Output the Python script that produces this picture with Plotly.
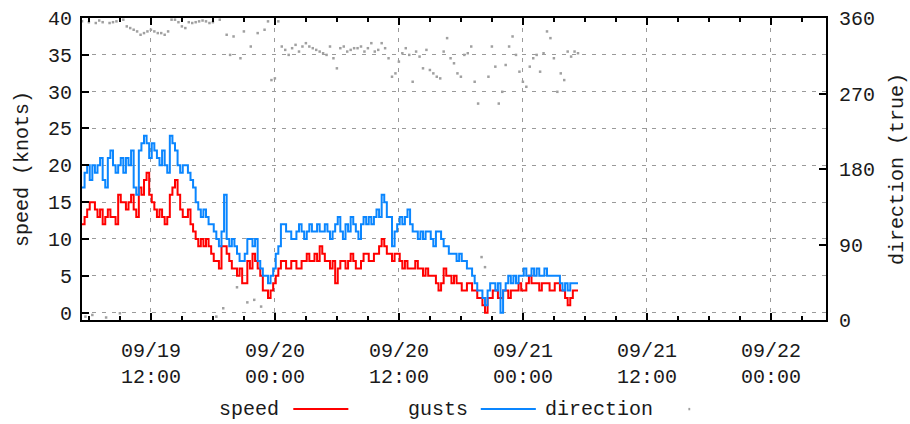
import datetime as dt
import plotly.graph_objects as go

# ---------------- data ----------------
start_time = "2016-09-19 05:20"
end_time = "2016-09-22 05:20"
wind_step_min = 15          # speed / gusts sample spacing
dir_step_min = 20           # direction sample spacing

speed_knots = [
    12, 13, 14, 15,  15, 14, 13, 14,  12, 13, 14, 13,  13, 12, 16, 15,
    15, 14, 15, 16,  14, 13, 17, 16,  18, 19, 16, 15,  14, 13, 14, 13,
    12, 13, 16, 17,  18, 16, 14, 13,  13, 14, 12, 11,  10, 9, 10, 9,
    10, 9, 8, 7,  7, 6, 9, 9,  8, 7, 6, 6,  5, 6, 4, 4,
    7, 6, 8, 7,  6, 5, 3, 3,  2, 3, 4, 5,  6, 7, 7, 6,
    6, 7, 7, 6,  6, 7, 7, 8,  7, 7, 8, 7,  9, 8, 7, 7,
    6, 7, 4, 6,  7, 7, 6, 7,  8, 7, 6, 6,  7, 8, 8, 7,
    7, 8, 8, 9,  10, 9, 8, 8,  7, 8, 8, 7,  6, 7, 6, 6,
    6, 7, 6, 6,  5, 6, 5, 5,  5, 4, 3, 4,  6, 5, 5, 4,
    5, 4, 4, 3,  3, 4, 4, 3,  3, 2, 2, 1,  0, 2, 2, 3,
    3, 2, 2, 3,  3, 2, 3, 3,  3, 4, 3, 3,  4, 5, 4, 4,
    4, 3, 4, 4,  4, 3, 3, 4,  4, 3, 3, 2,  1, 2, 3, 3,
    3,
]
gust_knots = [
    17, 19, 20, 18,  20, 19, 20, 21,  18, 17, 21, 22,  20, 19, 20, 21,
    19, 21, 20, 22,  17, 16, 22, 23,  24, 23, 21, 23,  22, 21, 20, 22,
    20, 19, 24, 23,  22, 20, 19, 20,  20, 19, 18, 17,  15, 14, 13, 14,
    13, 12, 12, 11,  10, 9, 11, 16,  10, 9, 10, 9,  8, 7, 7, 8,
    10, 10, 9, 10,  7, 6, 5, 5,  4, 5, 6, 8,  9, 12, 12, 11,
    11, 10, 10, 11,  12, 11, 10, 11,  12, 11, 11, 12,  11, 11, 12, 11,
    10, 11, 12, 13,  11, 10, 12, 11,  13, 12, 11, 10,  12, 13, 12, 13,
    12, 13, 14, 13,  16, 15, 13, 13,  9, 11, 12, 13,  12, 13, 14, 12,
    11, 11, 10, 11,  10, 11, 11, 10,  9, 11, 11, 10,  9, 9, 8, 8,
    8, 7, 8, 7,  7, 6, 6, 5,  4, 3, 3, 2,  1, 3, 4, 4,
    3, 4, 0, 3,  4, 5, 4, 5,  4, 5, 5, 6,  5, 5, 6, 5,
    6, 5, 5, 6,  5, 5, 5, 5,  5, 4, 3, 4,  3, 4, 4, 4,
    4,
]
direction_deg = [
    356, 4, 355, 6, 354, 357, 355, 3, 354, 355, 356, 8, 358, 350, 348, 346, 344, 340,
    342, 344, 346, 344, 342, 342, 340, 344, 358, 358, 355, 350, 348, 355, 354, 355, 356, 357,
    356, 354, 355, 4, 358, 14, 340, 316, 338, 39, 312, 344, 21, 326, 24, 342, 16, 346,
    356, 286, 288, 356, 326, 322, 316, 324, 328, 320, 326, 330, 326, 324, 322, 320, 318, 316,
    326, 312, 300, 324, 326, 320, 322, 324, 324, 326, 320, 324, 330, 320, 322, 330, 324, 312,
    290, 294, 308, 318, 324, 316, 284, 320, 314, 300, 322, 298, 294, 290, 288, 320, 336, 312,
    306, 294, 290, 316, 318, 326, 284, 258, 75, 63, 290, 326, 302, 258, 272, 304, 326, 338,
    316, 296, 284, 278, 302, 312, 316, 296, 318, 344, 336, 312, 272, 294, 286, 320, 314, 320,
    318,
]

tick_vals = ["2016-09-19 12:00", "2016-09-20 00:00", "2016-09-20 12:00",
             "2016-09-21 00:00", "2016-09-21 12:00", "2016-09-22 00:00"]
tick_text = ["09/19<br>12:00", "09/20<br>00:00", "09/20<br>12:00",
             "09/21<br>00:00", "09/21<br>12:00", "09/22<br>00:00"]
speed_ticks = [0, 5, 10, 15, 20, 25, 30, 35, 40]
dir_ticks = [0, 90, 180, 270, 360]
legend_names = ["speed", "gusts", "direction"]

# ---------------- build ----------------
t0 = dt.datetime.strptime(start_time, "%Y-%m-%d %H:%M")
wind_times = [t0 + dt.timedelta(minutes=wind_step_min * i) for i in range(len(speed_knots))]
dir_times = [t0 + dt.timedelta(minutes=dir_step_min * i) for i in range(len(direction_deg))]

RED = "#ff0000"
BLUE = "#0a86ff"
GRAY = "#a0a0a0"
FONT = "Liberation Mono"
FS = 20
TXT = "#1a1a1a"

fig = go.Figure()
fig.add_trace(go.Scatter(x=wind_times, y=speed_knots, mode="lines", line=dict(color=RED, width=2, shape="hv"),
                         name=legend_names[0]))
fig.add_trace(go.Scatter(x=wind_times, y=gust_knots, mode="lines", line=dict(color=BLUE, width=2, shape="hv"),
                         name=legend_names[1]))
fig.add_trace(go.Scatter(x=dir_times, y=direction_deg, mode="markers", yaxis="y2",
                         marker=dict(color=GRAY, size=2.5, symbol="square"), name=legend_names[2]))

grid = dict(showgrid=True, gridcolor="#9a9a9a", gridwidth=1, griddash="4px,6px")
tfont = dict(family=FONT, size=FS, color=TXT)

fig.update_layout(
    width=910, height=424,
    margin=dict(l=82, r=84, t=18, b=104),
    plot_bgcolor="white", paper_bgcolor="white",
    showlegend=False,
    font=tfont,
    xaxis=dict(
        type="date", range=[start_time, end_time], automargin=False,
        tickmode="array", tickvals=tick_vals, ticktext=tick_text,
        ticks="inside", ticklen=7, tickwidth=2, tickcolor="black",
        minor=dict(tickmode="linear", tick0="2016-09-19 12:00", dtick=3 * 3600 * 1000,
                   ticks="inside", ticklen=4, tickwidth=2, tickcolor="black", showgrid=False),
        showline=True, linecolor="black", linewidth=2, mirror="ticks",
        ticklabelstandoff=11, tickfont=tfont,
        zeroline=False, **grid,
    ),
    yaxis=dict(
        range=[-1, 40], tickmode="array", tickvals=speed_ticks, automargin=False,
        ticks="inside", ticklen=7, tickwidth=2, tickcolor="black",
        showline=True, linecolor="black", linewidth=2, mirror=True,
        ticklabelstandoff=4, tickfont=tfont,
        title=dict(text="speed (knots)", standoff=14, font=tfont),
        zeroline=False, **grid,
    ),
    yaxis2=dict(
        overlaying="y", side="right", range=[0, 360], tickmode="array", tickvals=dir_ticks,
        automargin=False,
        ticks="inside", ticklen=7, tickwidth=2, tickcolor="black",
        showgrid=False, zeroline=False, showline=False,
        ticklabelstandoff=12, tickfont=tfont,
        title=dict(text="direction (true)", standoff=14, font=tfont),
    ),
)

# gnuplot-style legend row: label text followed by its sample
leg_y = -0.295
fig.add_annotation(xref="paper", yref="paper", x=0.267, y=leg_y, text=legend_names[0], showarrow=False,
                   xanchor="right", yanchor="middle", font=tfont)
fig.add_shape(type="line", xref="paper", yref="paper", x0=0.284, x1=0.358, y0=leg_y, y1=leg_y,
              line=dict(color=RED, width=2))
fig.add_annotation(xref="paper", yref="paper", x=0.522, y=leg_y, text=legend_names[1], showarrow=False,
                   xanchor="right", yanchor="middle", font=tfont)
fig.add_shape(type="line", xref="paper", yref="paper", x0=0.536, x1=0.610, y0=leg_y, y1=leg_y,
              line=dict(color=BLUE, width=2))
fig.add_annotation(xref="paper", yref="paper", x=0.77, y=leg_y, text=legend_names[2], showarrow=False,
                   xanchor="right", yanchor="middle", font=tfont)
fig.add_shape(type="rect", xref="paper", yref="paper", x0=0.815, x1=0.8175, y0=leg_y - 0.004, y1=leg_y + 0.004,
              line=dict(width=0), fillcolor=GRAY)

# remove the default 8px page margin so the 910x424 figure fills the window exactly
fig.write_html("out.html", config={"displayModeBar": False},
               post_script="document.body.style.margin='0';document.body.style.overflow='hidden';")
